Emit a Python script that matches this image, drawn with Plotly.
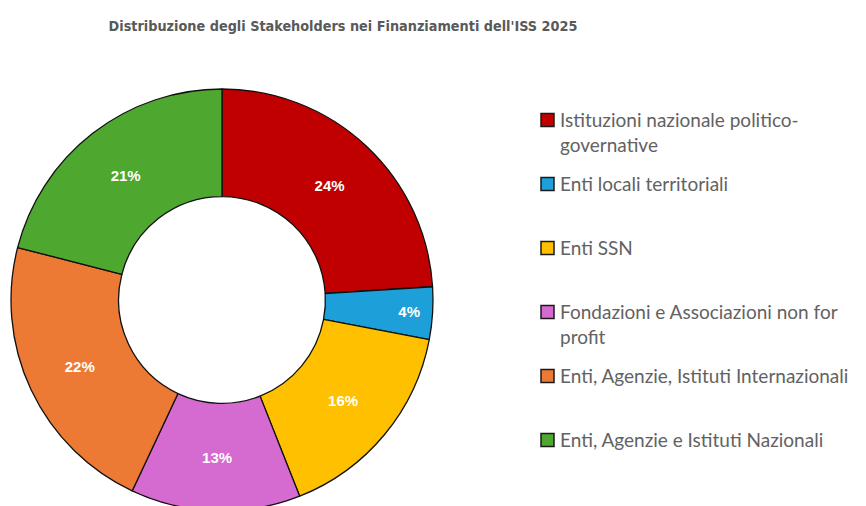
import plotly.graph_objects as go

categories = [
    "Istituzioni nazionale politico-<br>governative",
    "Enti locali territoriali",
    "Enti SSN",
    "Fondazioni e Associazioni non for<br>profit",
    "Enti, Agenzie, Istituti Internazionali",
    "Enti, Agenzie e Istituti Nazionali",
]
values = [24, 4, 16, 13, 22, 21]
colors = ["#C00000", "#1D9FDA", "#FFC000", "#D56AD0", "#EC7A34", "#4EA72E"]

W, H = 866, 506

fig = go.Figure(go.Pie(
    labels=[c.replace("<br>", "") for c in categories],
    values=values,
    hole=0.49,
    sort=False,
    direction="clockwise",
    rotation=0,
    marker=dict(colors=colors, line=dict(color="#111111", width=1.3)),
    textinfo="percent",
    texttemplate="%{percent:.0%}",
    textposition="inside",
    insidetextorientation="horizontal",
    textfont=dict(family="Liberation Sans, Arial", size=15, color="white", weight="bold"),
    domain=dict(x=[3/W, 425/W], y=[3/H, 425/H]),
    showlegend=False,
))

# custom legend (evenly spaced items, text top-aligned with the swatch)
legend_top = 112   # centre of first line of first item (px from top of paper)
legend_step = 64
sw_x0, sw_x1 = 533, 546
for i, (c, col) in enumerate(zip(categories, colors)):
    yc = legend_top + legend_step * i
    fig.add_shape(type="rect", xref="paper", yref="paper",
                  x0=sw_x0/W, x1=sw_x1/W, y0=1-(yc-6.5)/H, y1=1-(yc+6.5)/H,
                  fillcolor=col, line=dict(color="#1a1a1a", width=1.5))
    fig.add_annotation(xref="paper", yref="paper", x=551/W, xanchor="left",
                       y=1-(yc-13)/H, yanchor="top", text=c, showarrow=False,
                       align="left", borderpad=0,
                       font=dict(family="Lato, Open Sans", size=19, color="#626262"))

fig.update_layout(
    width=W, height=H,
    margin=dict(l=0, r=0, t=0, b=0),
    paper_bgcolor="white",
    title=dict(
        text="<b>Distribuzione degli Stakeholders nei Finanziamenti dell'ISS 2025</b>",
        x=335/W, xanchor="center", y=1-18/H, yanchor="middle",
        font=dict(family="DejaVu Sans Condensed", size=14.3, color="#595959"),
    ),
)

fig.write_html("out.html")
